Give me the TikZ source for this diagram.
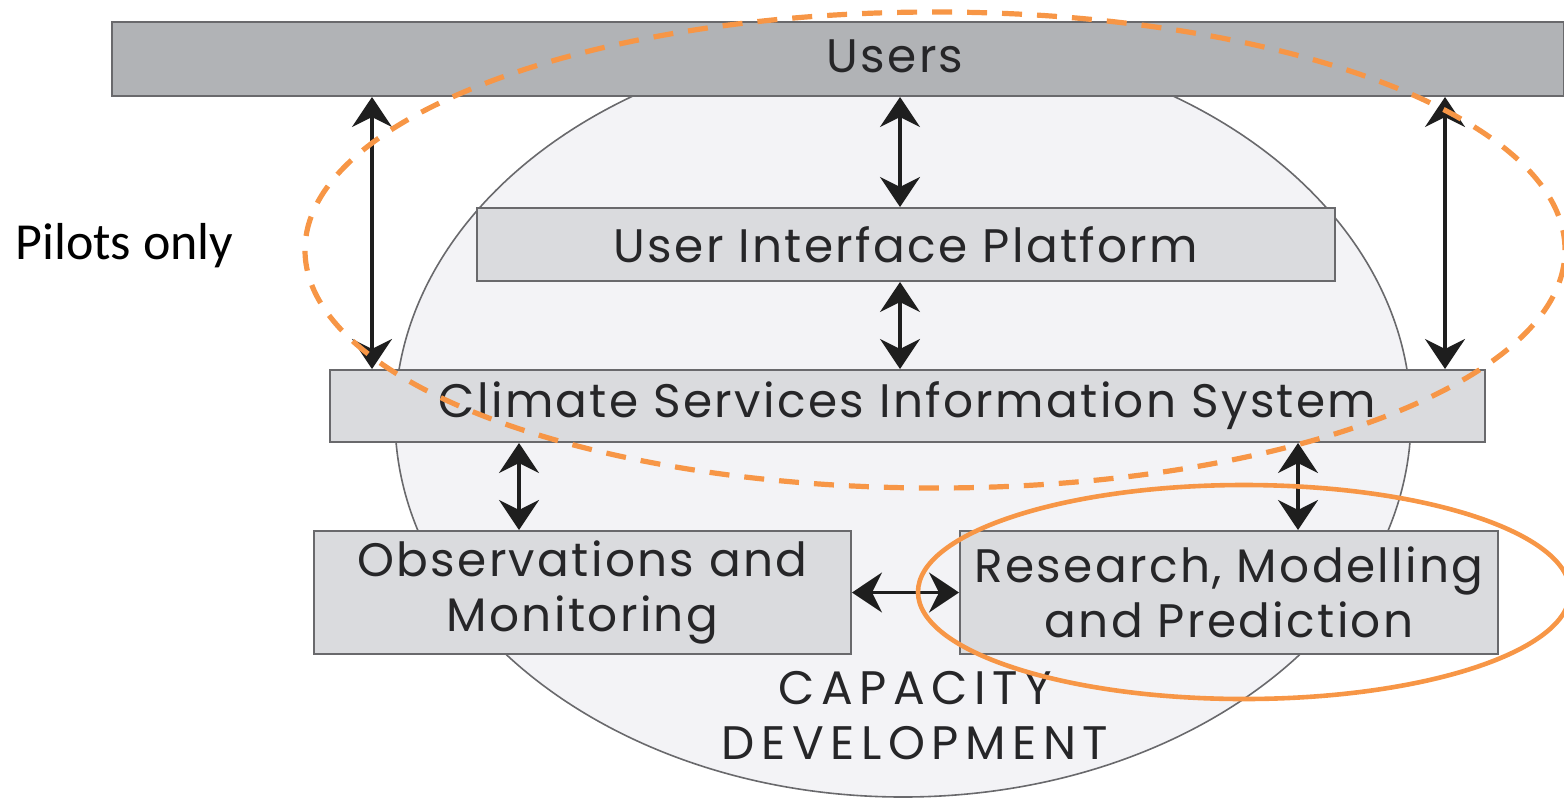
\documentclass[tikz,border=0pt]{standalone}
\usepackage{fontspec}
\setmainfont{Poppins}[LetterSpace=5, Ligatures=NoCommon]
\newfontfamily\capsfont{Poppins}[LetterSpace=14, Ligatures=NoCommon]
\newfontfamily\pilotfont{Carlito}
\usetikzlibrary{arrows.meta}
\definecolor{usersgray}{RGB}{177,179,182}
\definecolor{boxgray}{RGB}{218,219,222}
\definecolor{circfill}{RGB}{243,243,246}
\definecolor{edgegray}{RGB}{105,105,108}
\definecolor{textdark}{RGB}{38,38,40}
\definecolor{arrowc}{RGB}{30,30,30}
\definecolor{orng}{RGB}{247,150,70}
\newcommand\diagfont{\fontsize{23.5pt}{27.5pt}\selectfont}
\tikzset{
  box/.style={draw=edgegray, line width=1pt, fill=boxgray, inner sep=0pt, font=\diagfont, text=textdark, align=center},
  usersbar/.style={draw=edgegray, line width=1pt, fill=usersgray, inner sep=0pt},
  lbl/.style={font=\diagfont, text=textdark, inner sep=0pt, align=center},
  capslbl/.style={font=\capsfont\diagfont, text=textdark, inner sep=0pt, align=center},
  pilot/.style={font=\pilotfont\fontsize{26pt}{30pt}\selectfont, text=black, inner sep=0pt},
  arr/.style={{Stealth[length=15pt,width=20pt,inset=5pt]}-{Stealth[length=15pt,width=20pt,inset=5pt]}, line width=1.6pt, draw=arrowc},
  dashring/.style={draw=orng, line width=2.6pt, dash pattern=on 10pt off 7.5pt},
  solidring/.style={draw=orng, line width=2.3pt},
}
\begin{document}
\begin{tikzpicture}[x=0.5pt,y=-0.5pt]
\useasboundingbox (0,0) rectangle (1564,799);
% capacity development circle
\draw[draw=edgegray, line width=0.8pt, fill=circfill] (903,417.5) ellipse [x radius=254pt, y radius=189.75pt];
% boxes
\node[usersbar, minimum width=726pt, minimum height=37pt] (users) at (838,59) {};
\node[lbl] (userstext) at (895,56) {Users};
\node[box, minimum width=429pt, minimum height=36.5pt] (uip) at (906,244.5) {User Interface Platform};
\node[box, minimum width=577.5pt, minimum height=36pt] (csis) at (907.5,406) {Climate Services Information System};
\node[box, minimum width=268.5pt, minimum height=61.5pt] (obs) at (582.5,592.5) {Observations and\\Monitoring};
\node[box, minimum width=269pt, minimum height=61.5pt] (res) at (1229,592.5) {Research, Modelling\\and Prediction};
\node[capslbl] (cap) at (915,716) {CAPACITY\\DEVELOPMENT};
\node[pilot, anchor=base west] (pilots) at (15,259) {Pilots only};
% arrow columns
\coordinate (xl) at (372,0);
\coordinate (xr) at (1445,0);
\coordinate (xm) at (900,0);
\coordinate (xo) at (519,0);
\coordinate (xs) at (1298,0);
\draw[arr] (users.south -| xl) -- (csis.north -| xl);
\draw[arr] (users.south -| xr) -- (csis.north -| xr);
\draw[arr] (users.south -| xm) -- (uip.north -| xm);
\draw[arr] (uip.south -| xm) -- (csis.north -| xm);
\draw[arr] (csis.south -| xo) -- (obs.north -| xo);
\draw[arr] (csis.south -| xs) -- (res.north -| xs);
\draw[arr] (obs.east) -- (res.west);
% orange highlights
\draw[dashring] (935,250) ellipse [x radius=315pt, y radius=119pt];
\draw[solidring] (1244,592) ellipse [x radius=163pt, y radius=53.5pt];
\end{tikzpicture}
\end{document}
